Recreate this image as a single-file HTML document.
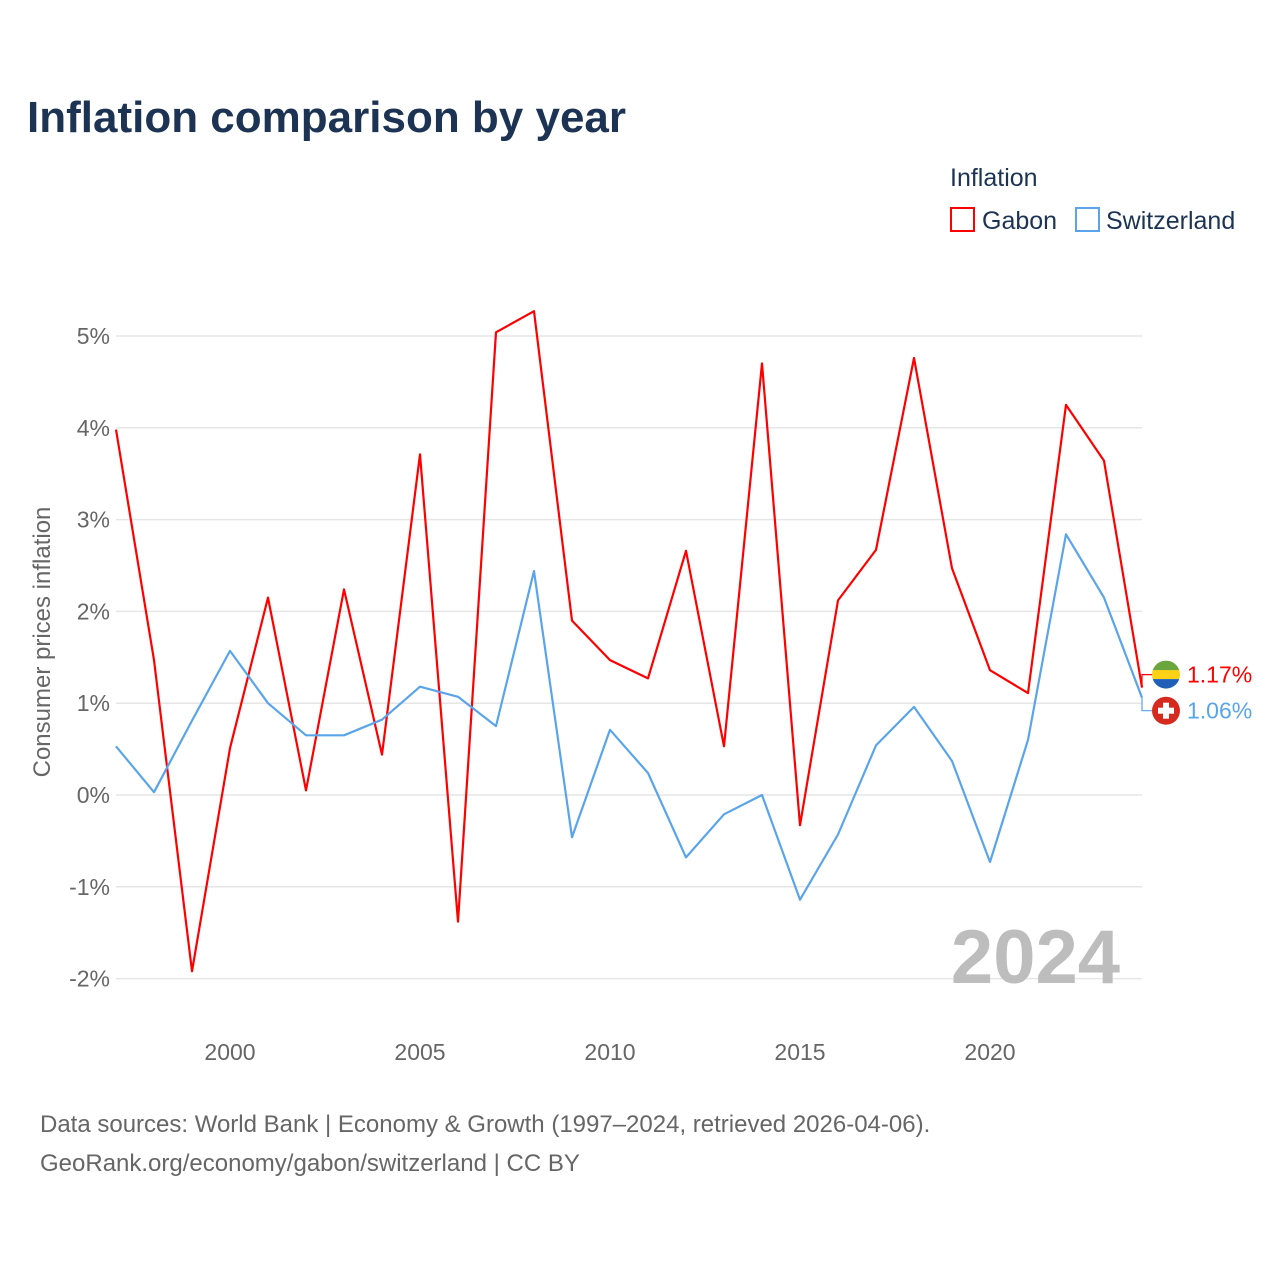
<!DOCTYPE html>
<html><head><meta charset="utf-8"><style>
html,body{margin:0;padding:0;background:#fff;}
svg text{font-family:"Liberation Sans",sans-serif;}
</style></head><body>
<svg id="chart" width="1280" height="1280" viewBox="0 0 1280 1280" xmlns="http://www.w3.org/2000/svg">
<text x="27" y="132" font-size="44" font-weight="bold" fill="#1c3354">Inflation comparison by year</text>
<text x="950" y="186" font-size="25" fill="#1c3354">Inflation</text>
<g><rect x="951" y="208" width="23" height="23" fill="none" stroke="#ff0000" stroke-width="2"/><text x="982" y="229" font-size="25" fill="#1c3354">Gabon</text></g>
<g><rect x="1076" y="208" width="23" height="23" fill="none" stroke="#5aa5ea" stroke-width="2"/><text x="1106" y="229" font-size="25" fill="#1c3354">Switzerland</text></g>
<text transform="translate(50,642) rotate(-90)" text-anchor="middle" font-size="24" fill="#666">Consumer prices inflation</text>
<g id="grid"></g><g id="xt"></g>
<text x="1120" y="983" text-anchor="end" font-size="76" font-weight="bold" fill="#bdbdbd">2024</text>
<g id="lines"></g>
<text x="40" y="1132" font-size="24" fill="#666">Data sources: World Bank | Economy &amp; Growth (1997–2024, retrieved 2026-04-06).</text>
<text x="40" y="1171" font-size="24" fill="#666">GeoRank.org/economy/gabon/switzerland | CC BY</text>
</svg>
<script>
const years=[1997,1998,1999,2000,2001,2002,2003,2004,2005,2006,2007,2008,2009,2010,2011,2012,2013,2014,2015,2016,2017,2018,2019,2020,2021,2022,2023,2024];
const gabon=[3.98,1.47,-1.92,0.51,2.15,0.05,2.24,0.44,3.71,-1.38,5.04,5.27,1.90,1.47,1.27,2.66,0.53,4.70,-0.33,2.12,2.67,4.76,2.47,1.36,1.11,4.25,3.64,1.17];
const swiss=[0.53,0.03,0.81,1.57,1.00,0.65,0.65,0.82,1.18,1.07,0.75,2.44,-0.46,0.71,0.24,-0.68,-0.21,0.00,-1.14,-0.43,0.54,0.96,0.37,-0.73,0.60,2.84,2.15,1.06];
const yTicks=[-2,-1,0,1,2,3,4,5];
const xTicks=[2000,2005,2010,2015,2020];
const NS="http://www.w3.org/2000/svg";
const X=y=>116+(y-1997)*(1142-116)/27;
const Y=v=>795-v*91.8;
function mk(t,a,p){const e=document.createElementNS(NS,t);for(const k in a)e.setAttribute(k,a[k]);p.appendChild(e);return e;}
const grid=document.getElementById('grid'),xt=document.getElementById('xt'),lines=document.getElementById('lines');
yTicks.forEach(v=>{
 const l=mk('line',{x1:116,x2:1142,y1:Y(v),y2:Y(v),stroke:'#e6e6e6','stroke-width':1.5},grid);
 
 
 const t=mk('text',{x:110,y:Y(v)+8,'text-anchor':'end','font-size':23,fill:'#666'},grid);
 t.textContent=v+'%';
 
 
});
xTicks.forEach(v=>{
 const t=mk('text',{x:X(v),y:1060,'text-anchor':'middle','font-size':23,fill:'#666'},xt);
 t.textContent=v;
 
 
});
function series(data,color,name){
 const d=data.map((v,i)=>(i?'L':'M')+X(years[i]).toFixed(1)+','+Y(v).toFixed(1)).join('');
 const p=mk('path',{d:d,fill:'none',stroke:color,'stroke-width':2.2,'stroke-linejoin':'round'},lines);
 
 
}
series(gabon,'#ff0000','gabon-line');
series(swiss,'#5aa5ea','switzerland-line');
const gL=gabon[gabon.length-1],sL=swiss[swiss.length-1];
const gy=Y(gL)-13,sy=Y(sL)+13;
const ex=X(2024);
mk('path',{d:`M${ex},${Y(gL)}L${ex},${gy}L1152,${gy}`,fill:'none',stroke:'#ff0000','stroke-width':1.2},lines);
mk('path',{d:`M${ex},${Y(sL)}L${ex},${sy}L1152,${sy}`,fill:'none',stroke:'#5aa5ea','stroke-width':1.2},lines);
const fg=mk('g',{},lines);


const cp=mk('clipPath',{id:'cg'},fg);mk('circle',{cx:1166,cy:gy,r:14},cp);
mk('rect',{x:1152,y:gy-14,width:28,height:10,fill:'#6ba53d','clip-path':'url(#cg)'},fg);
mk('rect',{x:1152,y:gy-4.5,width:28,height:9,fill:'#fcd116','clip-path':'url(#cg)'},fg);
mk('rect',{x:1152,y:gy+4.5,width:28,height:10,fill:'#1f5fb8','clip-path':'url(#cg)'},fg);
const fs=mk('g',{},lines);


mk('circle',{cx:1166,cy:sy,r:14,fill:'#d52b1e'},fs);
mk('rect',{x:1163,y:sy-8,width:6,height:16,fill:'#fff'},fs);
mk('rect',{x:1158,y:sy-3,width:16,height:6,fill:'#fff'},fs);
const gt=mk('text',{x:1187,y:gy+8,'font-size':23,fill:'#ff0000'},lines);gt.textContent=gL.toFixed(2)+'%';


const st=mk('text',{x:1187,y:sy+8,'font-size':23,fill:'#5aa5ea'},lines);st.textContent=sL.toFixed(2)+'%';


</script>
</body></html>
